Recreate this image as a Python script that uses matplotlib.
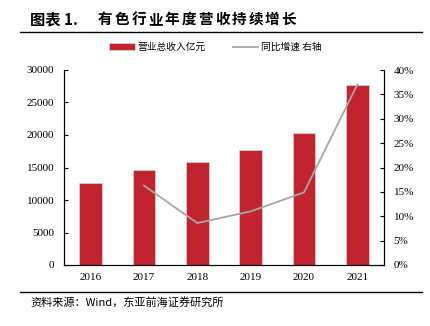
import numpy as np
import matplotlib.pyplot as plt
from matplotlib.ticker import PercentFormatter

plt.rcParams['font.family'] = ['Noto Sans CJK SC', 'DejaVu Sans']

years = ['2016', '2017', '2018', '2019', '2020', '2021']
revenue = [12600, 14600, 15850, 17700, 20300, 27750]
growth_years = ['2017', '2018', '2019', '2020', '2021']
growth = [16.3, 8.6, 11.0, 14.9, 37.0]

bar_color = '#C1232F'
line_color = '#A6A6A6'
num_font = 'Liberation Serif'
W, H = 431, 326

fig = plt.figure(figsize=(W / 100, H / 100), dpi=100)
ax = fig.add_axes([64 / W, 1 - 265 / H, 320 / W, 195 / H])
x = np.arange(len(years))
ax.bar(x, revenue, width=0.42, color=bar_color, edgecolor='#D9D9D9', linewidth=0.5,
       label='营业总收入亿元')
ax.set_xlim(-0.5, len(years) - 0.5)
ax.set_ylim(0, 30000)
ax.set_yticks(np.arange(0, 30001, 5000))
ax.set_xticks(x)
ax.set_xticklabels(years)
ax.spines['top'].set_visible(False)
ax.tick_params(axis='y', direction='in', length=3, width=0.8, labelsize=8, pad=7)
ax.tick_params(axis='x', length=0, labelsize=8, pad=6)
for lab in ax.get_xticklabels() + ax.get_yticklabels():
    lab.set_fontfamily(num_font)

ax2 = ax.twinx()
gx = [years.index(y) for y in growth_years]
ax2.plot(gx, growth, color=line_color, linewidth=1.3, label='同比增速 右轴')
ax2.set_ylim(0, 40)
ax2.set_yticks(np.arange(0, 41, 5))
ax2.yaxis.set_major_formatter(PercentFormatter(decimals=0))
ax2.spines['top'].set_visible(False)
ax2.tick_params(axis='y', direction='in', length=3, width=0.8, labelsize=8, pad=7)
for lab in ax2.get_yticklabels():
    lab.set_fontfamily(num_font)

h1, l1 = ax.get_legend_handles_labels()
h2, l2 = ax2.get_legend_handles_labels()
fig.legend(h1 + h2, l1 + l2, loc='center', bbox_to_anchor=(0.5, 1 - 47 / H),
           ncol=2, frameon=False, fontsize=7, handlelength=2.6, handleheight=0.6,
           columnspacing=2.8, handletextpad=0.3)

# title, with the wide character spacing of the original
fig.text(30 / W, 1 - 19 / H, '图表 1.', fontsize=11, fontweight='bold',
         va='center', ha='left')
title = '有色行业年度营收持续增长'
for i, ch in enumerate(title):
    fig.text((98 + i * 16.7) / W, 1 - 19 / H, ch, fontsize=10.5, fontweight='bold',
             va='center', ha='left')

fig.add_artist(plt.Line2D([20 / W, 422 / W], [1 - 32 / H, 1 - 32 / H],
                          color='black', linewidth=1.0))
fig.add_artist(plt.Line2D([20 / W, 422 / W], [1 - 292 / H, 1 - 292 / H],
                          color='black', linewidth=1.0))
fig.text(30 / W, 1 - 302 / H, '资料来源：Wind，东亚前海证券研究所', fontsize=8,
         va='center', ha='left')

fig.savefig('out.png', dpi=100)
